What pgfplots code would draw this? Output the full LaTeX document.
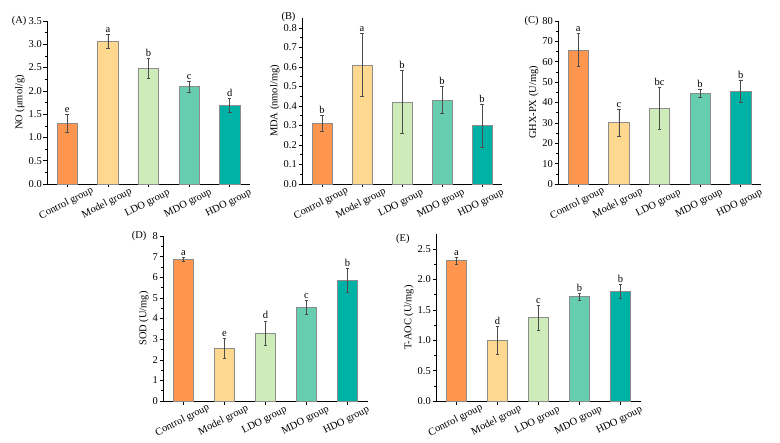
\documentclass[border=0pt]{standalone}
\usepackage{fontspec}
\setmainfont{Liberation Serif}
\usepackage{pgfplots}
\pgfplotsset{compat=1.18}
\definecolor{cCtl}{RGB}{255,150,80}
\definecolor{cMod}{RGB}{254,216,143}
\definecolor{cLDO}{RGB}{206,236,186}
\definecolor{cMDO}{RGB}{102,206,174}
\definecolor{cHDO}{RGB}{0,178,165}
\definecolor{edge}{RGB}{140,140,140}
\tikzset{
  lt/.style={above, inner sep=1.5bp, font=\fontsize{10.5}{11}\selectfont},
  pl/.style={anchor=east, font=\fontsize{10.5}{11}\selectfont},
}
\pgfplotsset{
  panel/.style={
    scale only axis, anchor=south west, clip=false,
    axis x line*=bottom, axis y line*=left,
    tick align=outside,
    xmin=-0.5, xmax=4.5, ymin=0,
    xtick={0,1,2,3,4},
    xticklabels={Control group, Model group, LDO group, MDO group, HDO group},
    x tick label style={anchor=center, xshift=-1bp, yshift=-16bp, rotate=27, inner sep=0pt, font=\fontsize{10.5}{11}\selectfont},
    y tick label style={font=\fontsize{10.5}{11}\selectfont, inner sep=1.5pt},
    label style={font=\fontsize{10.5}{12}\selectfont},
    /pgf/number format/assume math mode=true,
    minor y tick num=1,
    major tick length=3.5bp, minor tick length=2bp,
    every tick/.style={black, line width=0.5pt},
    axis line style={line width=0.6pt},
    ylabel style={yshift=-1bp},
    ybar, bar width=0.5, bar shift=0pt,
    error bars/y dir=both, error bars/y explicit,
    error bars/error bar style={line width=0.5pt, black!70},
    error bars/error mark options={rotate=90, mark size=1.8bp, line width=0.5pt, black!70},
  },
  barstyle/.style={draw=edge, line width=0.7pt, fill=#1},
  oned/.style={yticklabel style={/pgf/number format/.cd, fixed, fixed zerofill, precision=1}},
}
\begin{document}
\begin{tikzpicture}
\useasboundingbox (0,0) rectangle (780bp,443bp);
% (A) NO
\begin{axis}[panel, oned, at={(47bp,259bp)}, width=203bp, height=163bp,
  ymax=3.5, ytick={0,0.5,...,3.5}, ylabel={NO (μmol/g)}]
\addplot[barstyle=cCtl] coordinates {(0,1.31) +- (0,0.19)};
\addplot[barstyle=cMod] coordinates {(1,3.06) +- (0,0.15)};
\addplot[barstyle=cLDO] coordinates {(2,2.48) +- (0,0.21)};
\addplot[barstyle=cMDO] coordinates {(3,2.09) +- (0,0.11)};
\addplot[barstyle=cHDO] coordinates {(4,1.69) +- (0,0.15)};
\node[lt] at (axis cs:0,1.50) {e};
\node[lt] at (axis cs:1,3.21) {a};
\node[lt] at (axis cs:2,2.69) {b};
\node[lt] at (axis cs:3,2.20) {c};
\node[lt] at (axis cs:4,1.84) {d};
\node[pl] at (rel axis cs:0,1) [xshift=-17bp] {(A)};
\end{axis}
% (B) MDA
\begin{axis}[panel, oned, at={(302bp,259bp)}, width=200bp, height=166bp,
  ymax=0.85, ytick={0,0.1,...,0.8}, ylabel={MDA (nmol/mg)}]
\addplot[barstyle=cCtl] coordinates {(0,0.31) +- (0,0.04)};
\addplot[barstyle=cMod] coordinates {(1,0.61) +- (0,0.16)};
\addplot[barstyle=cLDO] coordinates {(2,0.42) +- (0,0.16)};
\addplot[barstyle=cMDO] coordinates {(3,0.43) +- (0,0.07)};
\addplot[barstyle=cHDO] coordinates {(4,0.30) +- (0,0.11)};
\node[lt] at (axis cs:0,0.35) {b};
\node[lt] at (axis cs:1,0.77) {a};
\node[lt] at (axis cs:2,0.58) {b};
\node[lt] at (axis cs:3,0.50) {b};
\node[lt] at (axis cs:4,0.41) {b};
\node[pl] at (rel axis cs:0,1) [xshift=-3bp, yshift=1bp] {(B)};
\end{axis}
% (C) GHX-PX
\begin{axis}[panel, at={(558bp,259bp)}, width=203bp, height=163bp,
  ymax=80, ytick={0,10,...,80}, ylabel={GHX-PX (U/mg)}]
\addplot[barstyle=cCtl] coordinates {(0,65.8) +- (0,8.0)};
\addplot[barstyle=cMod] coordinates {(1,30.1) +- (0,6.7)};
\addplot[barstyle=cLDO] coordinates {(2,37.1) +- (0,10.2)};
\addplot[barstyle=cMDO] coordinates {(3,44.6) +- (0,1.8)};
\addplot[barstyle=cHDO] coordinates {(4,45.6) +- (0,5.5)};
\node[lt] at (axis cs:0,73.8) {a};
\node[lt] at (axis cs:1,36.8) {c};
\node[lt] at (axis cs:2,47.3) {bc};
\node[lt] at (axis cs:3,46.4) {b};
\node[lt] at (axis cs:4,51.1) {b};
\node[pl] at (rel axis cs:0,1) [xshift=-16bp] {(C)};
\end{axis}
% (D) SOD
\begin{axis}[panel, at={(163bp,42bp)}, width=205bp, height=165bp,
  ymax=8, ytick={0,1,...,8}, ylabel={SOD (U/mg)}]
\addplot[barstyle=cCtl] coordinates {(0,6.87) +- (0,0.10)};
\addplot[barstyle=cMod] coordinates {(1,2.55) +- (0,0.48)};
\addplot[barstyle=cLDO] coordinates {(2,3.29) +- (0,0.60)};
\addplot[barstyle=cMDO] coordinates {(3,4.55) +- (0,0.33)};
\addplot[barstyle=cHDO] coordinates {(4,5.85) +- (0,0.59)};
\node[lt] at (axis cs:0,6.97) {a};
\node[lt] at (axis cs:1,3.03) {e};
\node[lt] at (axis cs:2,3.89) {d};
\node[lt] at (axis cs:3,4.88) {c};
\node[lt] at (axis cs:4,6.44) {b};
\node[pl] at (rel axis cs:0,1) [xshift=-13bp] {(D)};
\end{axis}
% (E) T-AOC
\begin{axis}[panel, oned, at={(436bp,42bp)}, width=205bp, height=167bp,
  ymax=2.75, ytick={0,0.5,...,2.5}, ylabel={T-AOC (U/mg)}]
\addplot[barstyle=cCtl] coordinates {(0,2.31) +- (0,0.06)};
\addplot[barstyle=cMod] coordinates {(1,1.00) +- (0,0.23)};
\addplot[barstyle=cLDO] coordinates {(2,1.37) +- (0,0.20)};
\addplot[barstyle=cMDO] coordinates {(3,1.72) +- (0,0.06)};
\addplot[barstyle=cHDO] coordinates {(4,1.81) +- (0,0.11)};
\node[lt] at (axis cs:0,2.37) {a};
\node[lt] at (axis cs:1,1.23) {d};
\node[lt] at (axis cs:2,1.57) {c};
\node[lt] at (axis cs:3,1.78) {b};
\node[lt] at (axis cs:4,1.92) {b};
\node[pl] at (rel axis cs:0,1) [xshift=-23bp, yshift=-5bp] {(E)};
\end{axis}
\end{tikzpicture}
\end{document}
